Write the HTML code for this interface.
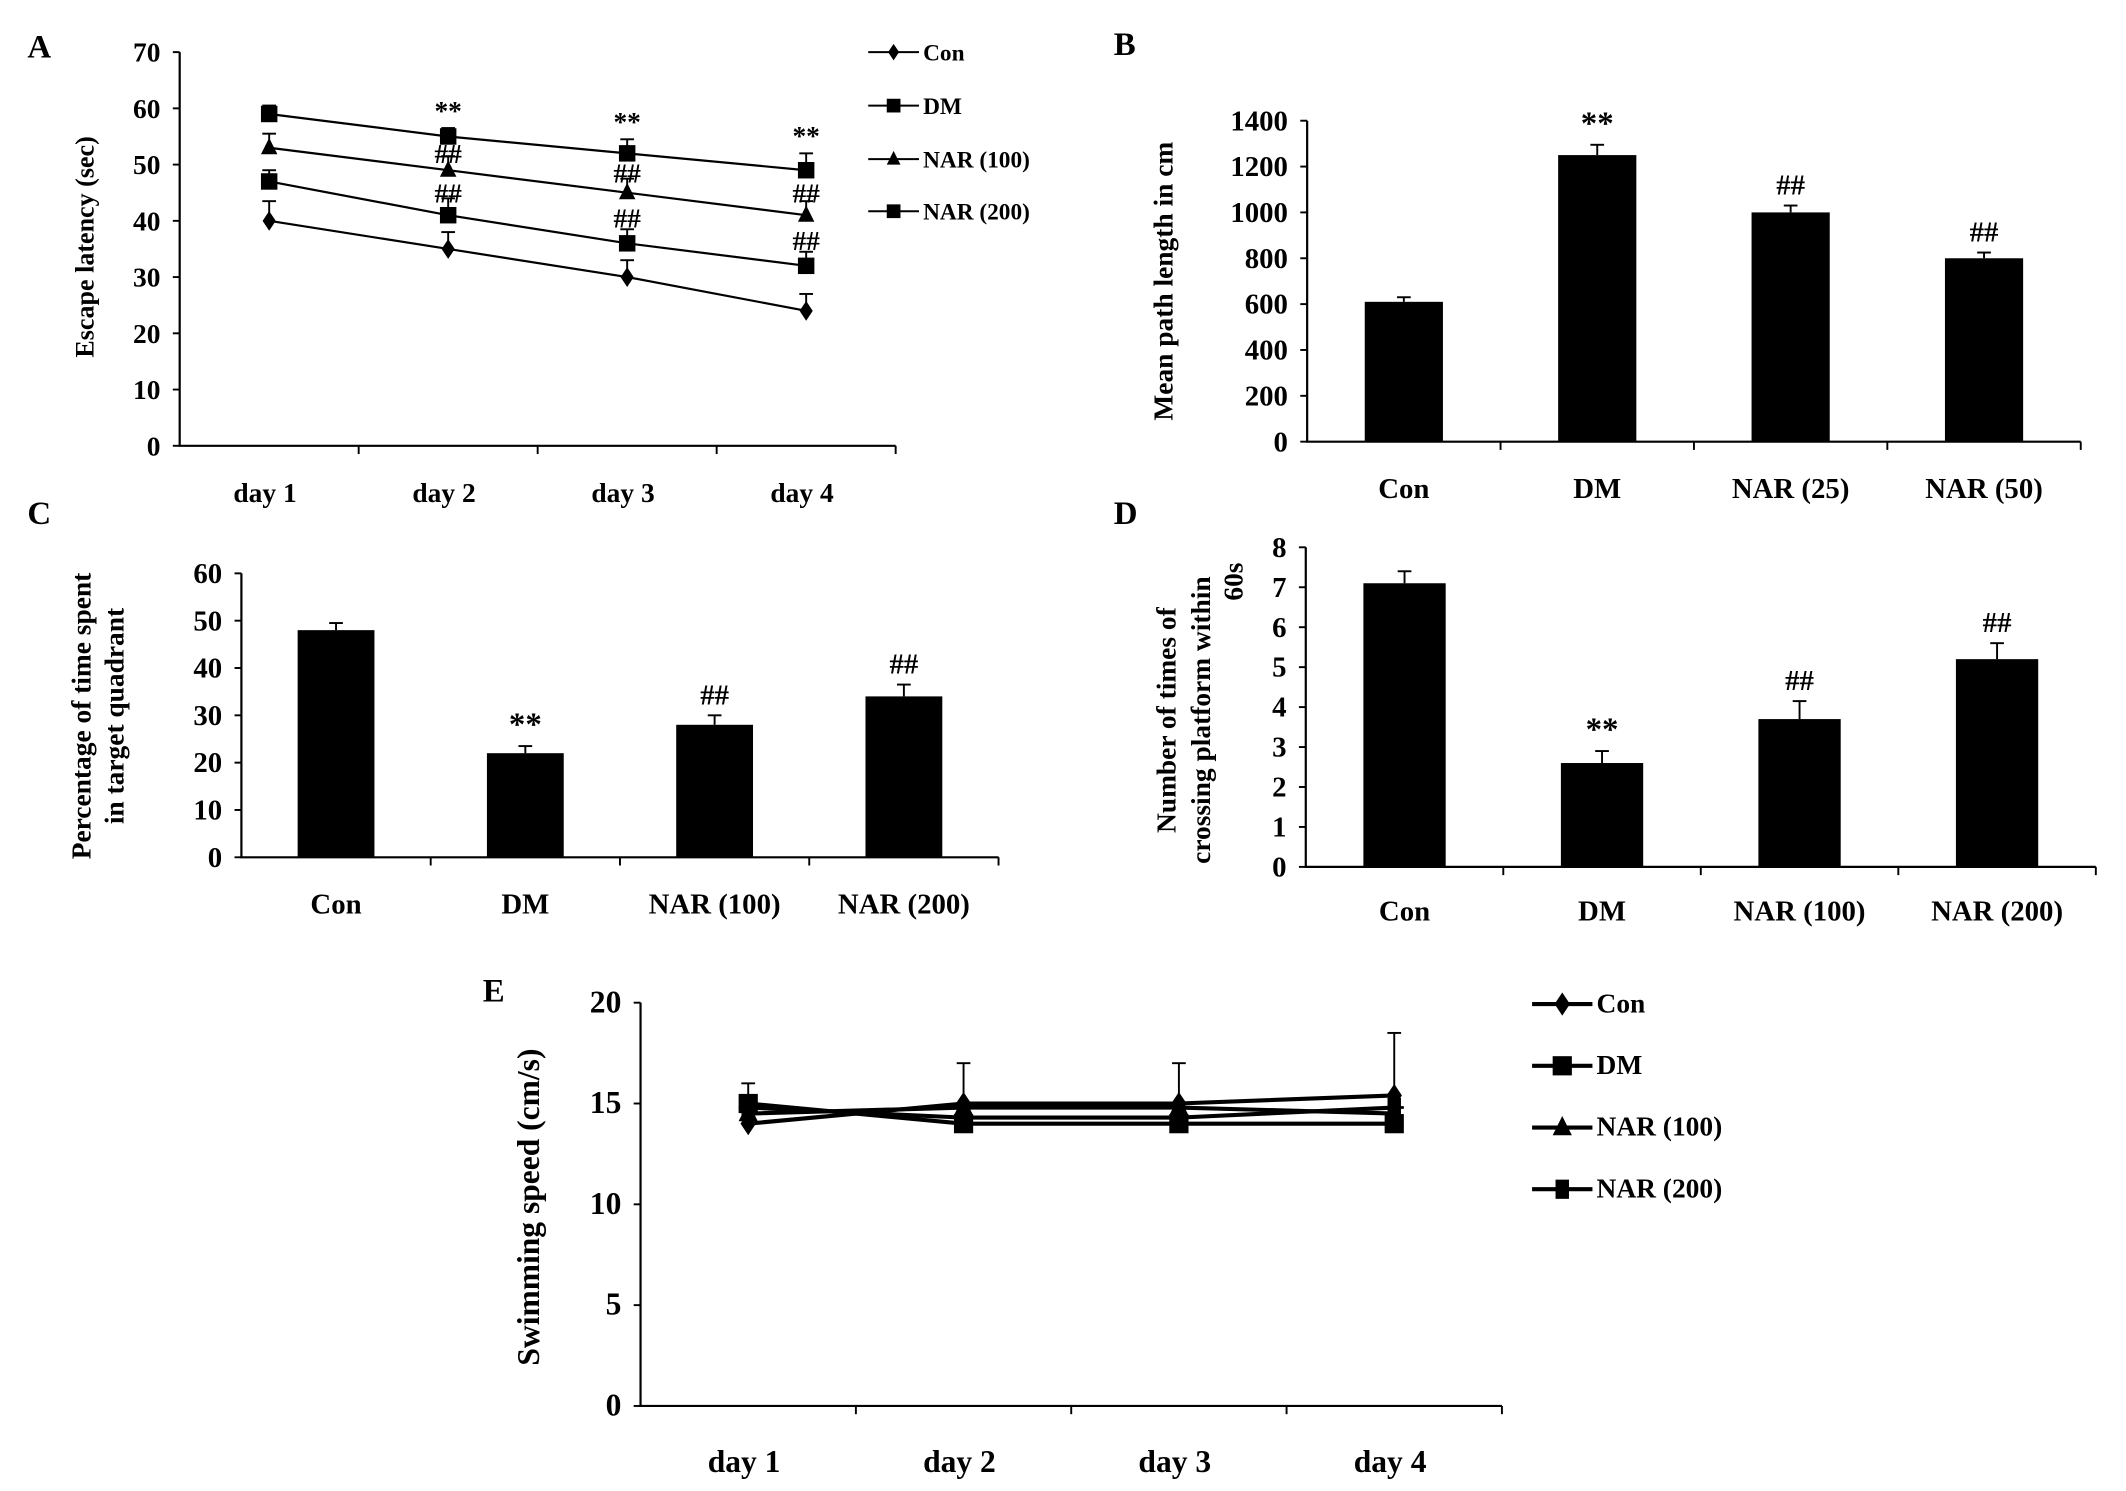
<!DOCTYPE html>
<html><head><meta charset="utf-8"><style>
html,body{margin:0;padding:0;background:#fff;}
svg{display:block;}
text{font-family:"Liberation Serif",serif;font-weight:bold;fill:#000;}
</style></head><body>
<svg id="fig" width="2126" height="1491" viewBox="0 0 1550 1087" preserveAspectRatio="none" xmlns="http://www.w3.org/2000/svg"></svg>
<script>
// ---- Panel A data ----
const aDays = ["day 1","day 2","day 3","day 4"];
const aTicks = [0,10,20,30,40,50,60,70];
const aCon = [40,35,30,24];
const aConErr = [3.5,3,3,3];
const aDM = [59,55,52,49];
const aDMErr = [1.5,1.5,2.5,3];
const aN100 = [53,49,45,41];
const aN100Err = [2.5,2.5,2.5,2.5];
const aN200 = [47,41,36,32];
const aN200Err = [2,3,2.5,2.5];
// ---- Panel B ----
const bCats = ["Con","DM","NAR (25)","NAR (50)"];
const bTicks = [0,200,400,600,800,1000,1200,1400];
const bVals = [610,1250,1000,800];
const bErr = [20,45,30,25];
const bSig = ["","**","##","##"];
// ---- Panel C ----
const cCats = ["Con","DM","NAR (100)","NAR (200)"];
const cTicks = [0,10,20,30,40,50,60];
const cVals = [48,22,28,34];
const cErr = [1.5,1.5,2,2.5];
const cSig = ["","**","##","##"];
// ---- Panel D ----
const dCats = ["Con","DM","NAR (100)","NAR (200)"];
const dTicks = [0,1,2,3,4,5,6,7,8];
const dVals = [7.1,2.6,3.7,5.2];
const dErr = [0.3,0.3,0.45,0.4];
const dSig = ["","**","##","##"];
// ---- Panel E ----
const eDays = ["day 1","day 2","day 3","day 4"];
const eTicks = [0,5,10,15,20];
const eCon = [14,15,15,15.4];
const eDM = [15,14,14,14];
const eN100 = [14.5,14.8,14.8,14.5];
const eN200 = [14.8,14.3,14.3,14.8];
const eErrTop = [16,17,17,18.5];

const svg = document.getElementById('fig');
const NS = "http://www.w3.org/2000/svg";
function mk(tag, attrs, parent, txt){
  const e = document.createElementNS(NS, tag);
  for (const k in attrs) e.setAttribute(k, attrs[k]);
  if (txt !== undefined) e.textContent = txt;
  (parent||svg).appendChild(e);
  return e;
}
function grp(name){
  const g = mk('g',{});
  
  
  return g;
}
function axes(g, x0, x1, yTop, yBot, ticks, nCat, fs){
  const ax = mk('path',{d:`M${x0},${yTop} L${x0},${yBot} L${x1},${yBot}`,stroke:'#000','stroke-width':1.6,fill:'none'},g);
  
  
  const max = ticks[ticks.length-1];
  const ys = v => yBot - (v/max)*(yBot-yTop);
  ticks.forEach(t=>{
    mk('line',{x1:x0-5,x2:x0,y1:ys(t),y2:ys(t),stroke:'#000','stroke-width':1.4},g);
    const tl = mk('text',{x:x0-14,y:ys(t)+7,'text-anchor':'end','font-size':fs},g,String(t));
    
    
  });
  const step = (x1-x0)/nCat;
  for (let i=1;i<=nCat;i++) mk('line',{x1:x0+i*step,x2:x0+i*step,y1:yBot,y2:yBot+6,stroke:'#000','stroke-width':1.4},g);
  return {ys, xc: i => x0 + (i+0.5)*step, step};
}
function ylabel(g, lines, xs, cy, fs){
  lines.forEach((l,i)=>{
    const t = mk('text',{x:0,y:0,transform:`translate(${xs[i]},${cy}) rotate(-90)`,'text-anchor':'middle','font-size':fs},g,l);
    
    
  });
}
function panelLabel(txt,x,y){
  const t = mk('text',{x:x,y:y,'font-size':24});
  t.textContent = txt;
  
  
}
function marker(g, type, x, y, s){
  if (type==='diamond') mk('path',{d:`M${x},${y-s*1.2} L${x+s*0.8},${y} L${x},${y+s*1.2} L${x-s*0.8},${y}Z`},g);
  else if (type==='square') mk('rect',{x:x-s,y:y-s,width:2*s,height:2*s},g);
  else if (type==='triangle') mk('path',{d:`M${x},${y-s*1.2} L${x+s},${y+s*0.8} L${x-s},${y+s*0.8}Z`},g);
  else if (type==='star') { mk('rect',{x:x-s*0.7,y:y-s,width:1.4*s,height:2*s},g); mk('line',{x1:x-s,x2:x+s,y1:y,y2:y,stroke:'#000','stroke-width':2},g); }
}
function errBar(g,x,y1,y2){
  mk('line',{x1:x,x2:x,y1:y1,y2:y2,stroke:'#000','stroke-width':1.4},g);
  mk('line',{x1:x-5,x2:x+5,y1:y2,y2:y2,stroke:'#000','stroke-width':1.4},g);
}
function legend(g, entries, types, x, ys, lw, sw){
  entries.forEach((e,i)=>{
    const lg = mk('g',{},g);
    
    
    mk('line',{x1:x,x2:x+lw,y1:ys[i],y2:ys[i],stroke:'#000','stroke-width':sw},lg);
    marker(lg, types[i], x+lw/2, ys[i], sw>2?7:5);
    mk('text',{x:x+lw+3,y:ys[i]+6,'font-size':sw>2?20:17},lg,e);
  });
}
function barPanel(name, cats, ticks, vals, errs, sigs, geo){
  const g = grp(name);
  const a = axes(g, geo.x0, geo.x1, geo.yTop, geo.yBot, ticks, cats.length, 21);
  vals.forEach((v,i)=>{
    const xc = a.xc(i);
    const b = mk('rect',{x:xc-geo.bw/2,y:a.ys(v),width:geo.bw,height:geo.yBot-a.ys(v)},g);
    
    
    errBar(g, xc, a.ys(v), a.ys(v+errs[i]));
    if (sigs[i]) mk('text',{x:xc,y:a.ys(v+errs[i])-8,'text-anchor':'middle','font-size':sigs[i]==='**'?24:21,'font-weight':sigs[i]==='**'?'bold':'normal'},g,sigs[i]);
    const cl = mk('text',{x:xc,y:geo.labY,'text-anchor':'middle','font-size':21},g,cats[i]);
    
    
  });
  return g;
}

// ===== Panel A =====
(function(){
  const g = grp('panel-a-escape-latency');
  const a = axes(g,131,653,38,325,aTicks,4,20);
  aDays.forEach((d,i)=>{ mk('text',{x:a.xc(i)-3,y:366,'text-anchor':'middle','font-size':20},g,d); });
  const series = [[aCon,aConErr,'diamond'],[aDM,aDMErr,'square'],[aN100,aN100Err,'triangle'],[aN200,aN200Err,'square']];
  series.forEach(s=>{
    const pts = s[0].map((v,i)=>`${a.xc(i)},${a.ys(v)}`).join(' ');
    const l = mk('polyline',{points:pts,fill:'none',stroke:'#000','stroke-width':1.6},g);
    
    
    s[0].forEach((v,i)=>{ errBar(g,a.xc(i),a.ys(v),a.ys(v+s[1][i])); marker(g,s[2],a.xc(i),a.ys(v),6); });
  });
  for (let i=1;i<4;i++){
    mk('text',{x:a.xc(i),y:a.ys(aDM[i]+aDMErr[i])-6,'text-anchor':'middle','font-size':20},g,'**');
    mk('text',{x:a.xc(i),y:a.ys((aDM[i]+aN100[i])/2)+7,'text-anchor':'middle','font-size':20,'font-weight':'normal'},g,'##');
    mk('text',{x:a.xc(i),y:a.ys((aN100[i]+aN200[i])/2)+7,'text-anchor':'middle','font-size':20,'font-weight':'normal'},g,'##');
  }
  ylabel(g,['Escape latency (sec)'],[68],180,19);
  legend(g,['Con','DM','NAR (100)','NAR (200)'],['diamond','square','triangle','square'],633,[38,77,116,154],37,1.5);
})();
panelLabel('A',20,42);

// ===== Panel B =====
(function(){
  const g = barPanel('panel-b-path-length', bCats, bTicks, bVals, bErr, bSig, {x0:953,x1:1517,yTop:88,yBot:322,bw:57,labY:363});
  ylabel(g,['Mean path length in cm'],[855],205,20);
})();
panelLabel('B',812,40);

// ===== Panel C =====
(function(){
  const g = barPanel('panel-c-target-quadrant', cCats, cTicks, cVals, cErr, cSig, {x0:176,x1:728,yTop:418,yBot:625,bw:56,labY:666});
  ylabel(g,['Percentage of time spent','in target quadrant'],[66,90],522,20);
})();
panelLabel('C',20,382);

// ===== Panel D =====
(function(){
  const g = barPanel('panel-d-platform-crossings', dCats, dTicks, dVals, dErr, dSig, {x0:952,x1:1528,yTop:399,yBot:632,bw:60,labY:671});
  ylabel(g,['Number of times of','crossing platform within'],[857,882],525,20);
  mk('text',{x:0,y:0,transform:'translate(906,424) rotate(-90)','text-anchor':'middle','font-size':20},g,'60s');
})();
panelLabel('D',812,382);

// ===== Panel E =====
(function(){
  const g = grp('panel-e-swimming-speed');
  const a = axes(g,467,1095,731,1025,eTicks,4,23);
  eDays.forEach((d,i)=>{ mk('text',{x:a.xc(i)-3,y:1073,'text-anchor':'middle','font-size':23},g,d); });
  eErrTop.forEach((t,i)=>{ errBar(g,a.xc(i),a.ys(15),a.ys(t)); });
  const series = [[eCon,'diamond'],[eDM,'square'],[eN100,'triangle'],[eN200,'star']];
  series.forEach(s=>{
    const pts = s[0].map((v,i)=>`${a.xc(i)},${a.ys(v)}`).join(' ');
    const l = mk('polyline',{points:pts,fill:'none',stroke:'#000','stroke-width':3},g);
    
    
    s[0].forEach((v,i)=>marker(g,s[1],a.xc(i),a.ys(v),7));
  });
  ylabel(g,['Swimming speed (cm/s)'],[393],880,23);
  legend(g,['Con','DM','NAR (100)','NAR (200)'],['diamond','square','triangle','star'],1117,[732,777,822,867],44,3);
})();
panelLabel('E',352,730);
</script>
</body></html>
